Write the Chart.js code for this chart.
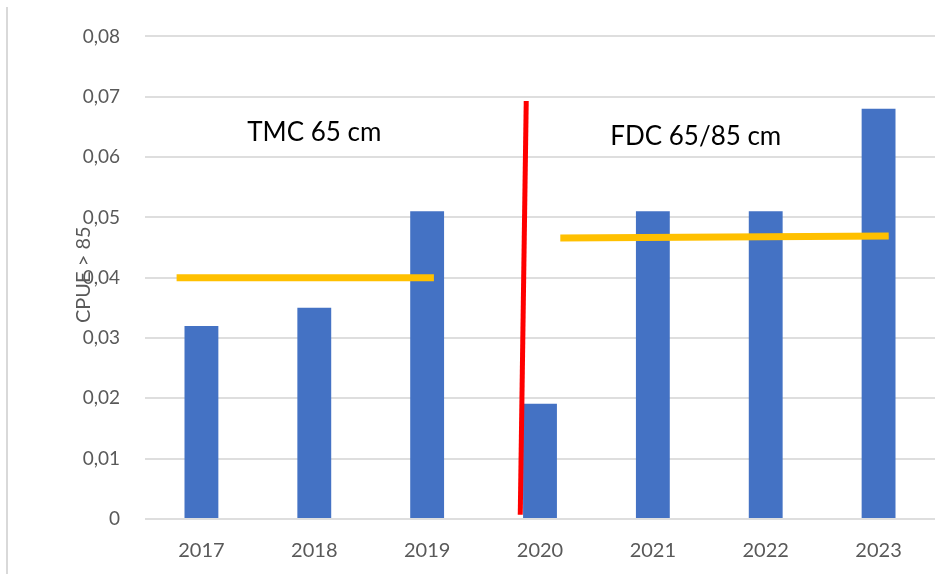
<!DOCTYPE html>
<html>
<head>
<meta charset="utf-8">
<script src="https://cdn.jsdelivr.net/npm/chart.js@4.4.1/dist/chart.umd.min.js"></script>
<style>
  html, body { margin: 0; padding: 0; background: #ffffff; }
  #wrap { position: relative; width: 949px; height: 574px; }
  #frame { position: absolute; left: 6px; top: 7px; height: 567px; border-left: 2px solid #d9d9d9; }
</style>
</head>
<body>
<div id="wrap">
  <canvas id="c" width="949" height="574"></canvas>
  <div id="frame"></div>
</div>
<script>
// ---- data ----
const years = ['2017', '2018', '2019', '2020', '2021', '2022', '2023'];
const cpue = [0.032, 0.035, 0.051, 0.0191, 0.051, 0.051, 0.068];
const yTickValues = [0, 0.01, 0.02, 0.03, 0.04, 0.05, 0.06, 0.07, 0.08];
const yTitle = 'CPUE > 85';
// mean lines (x in category-index units, y in CPUE)
const meanTMC = [{ x: -0.22, y: 0.0400 }, { x: 2.06, y: 0.0400 }];
const meanFDC = [{ x: 3.18, y: 0.0466 }, { x: 6.09, y: 0.0469 }];
// regulation change divider
const divider = [{ x: 2.878, y: 0.0693 }, { x: 2.825, y: 0.0007 }];
// period labels
const periodText = ['TMC 65 cm', 'FDC 65/85 cm'];
const periodX = [1.0, 4.38];
const periodY = [0.0640, 0.0634];

Chart.defaults.font.family = 'Lato, "Open Sans", sans-serif';
Chart.defaults.color = '#595959';

const periodLabels = {
  id: 'periodLabels',
  afterDatasetsDraw(chart) {
    const ctx = chart.ctx;
    const xs = chart.scales.x2, ys = chart.scales.y;
    const area = chart.chartArea;
    ctx.save();
    ctx.fillStyle = '#000000';
    ctx.font = '26px Lato, "Open Sans", sans-serif';
    ctx.textAlign = 'center';
    ctx.textBaseline = 'middle';
    periodText.forEach((t, i) => {
      ctx.fillText(t, xs.getPixelForValue(periodX[i]), ys.getPixelForValue(periodY[i]));
    });
    ctx.restore();
    // y-axis title
    ctx.save();
    ctx.fillStyle = '#595959';
    ctx.font = '20px Lato, "Open Sans", sans-serif';
    ctx.textAlign = 'center';
    ctx.textBaseline = 'middle';
    ctx.translate(area.left - 61, (area.top + area.bottom) / 2 - 3);
    ctx.rotate(-Math.PI / 2);
    ctx.fillText(yTitle, 0, 0);
    ctx.restore();
  }
};

new Chart(document.getElementById('c'), {
  type: 'bar',
  data: {
    labels: years,
    datasets: [
      {
        type: 'line', data: divider, xAxisID: 'x2', yAxisID: 'y',
        borderColor: '#ff0000', borderWidth: 5, pointRadius: 0, borderCapStyle: 'butt', order: 0
      },
      {
        type: 'line', data: meanTMC, xAxisID: 'x2', yAxisID: 'y',
        borderColor: '#ffc000', borderWidth: 7, pointRadius: 0, borderCapStyle: 'butt', order: 1
      },
      {
        type: 'line', data: meanFDC, xAxisID: 'x2', yAxisID: 'y',
        borderColor: '#ffc000', borderWidth: 7, pointRadius: 0, borderCapStyle: 'butt', order: 1
      },
      {
        type: 'bar', data: cpue, xAxisID: 'x', yAxisID: 'y',
        backgroundColor: '#4472c4', borderWidth: 0, grouped: false,
        categoryPercentage: 1.0, barPercentage: 0.3, order: 2
      }
    ]
  },
  options: {
    responsive: false,
    animation: false,
    events: [],
    layout: { padding: { left: 40, top: 34, right: 14, bottom: 0 } },
    plugins: { legend: { display: false }, tooltip: { enabled: false } },
    scales: {
      x: {
        type: 'category',
        offset: true,
        grid: { display: false, drawTicks: false },
        border: { display: false },
        ticks: { padding: 20, font: { size: 20 }, color: '#595959' },
        afterFit(s) { s.height = 55; }
      },
      x2: {
        type: 'linear', display: false, min: -0.5, max: 6.5, offset: false,
        grid: { offset: false }
      },
      y: {
        min: 0, max: 0.08,
        afterBuildTicks(s) { s.ticks = yTickValues.map(v => ({ value: v })); },
        ticks: {
          padding: 25,
          font: { size: 19 },
          color: '#595959',
          callback: (v) => v === 0 ? '0' : v.toFixed(2).replace('.', ',')
        },
        grid: { color: '#dedede', lineWidth: 2, drawTicks: false },
        border: { display: false },
        title: { display: false },
        afterFit(s) { s.width = 105; }
      }
    }
  },
  plugins: [periodLabels]
});
</script>
</body>
</html>
